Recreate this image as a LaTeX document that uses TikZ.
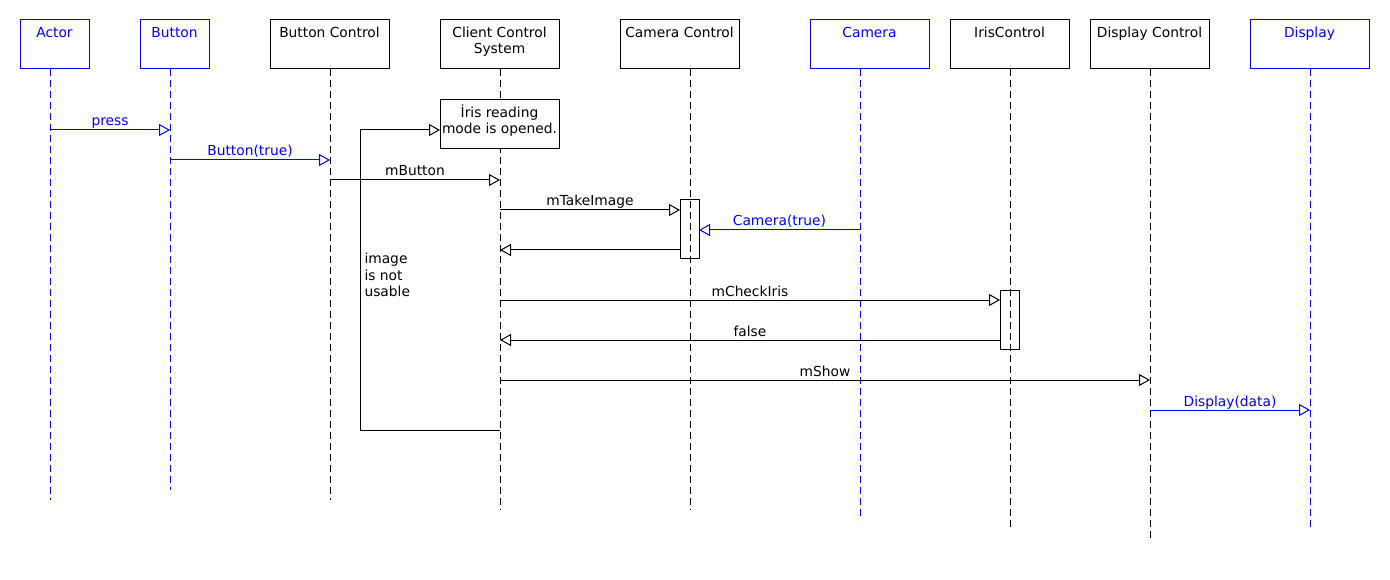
\documentclass[tikz,border=0pt]{standalone}
\usepackage{fontspec}
\setmainfont{DejaVu Sans}
\usetikzlibrary{arrows.meta}
\definecolor{umlblue}{RGB}{0,0,255}
\begin{document}
\begin{tikzpicture}[x=1pt,y=-1pt,line width=1pt,
  every node/.style={font=\fontsize{13.8}{16}\selectfont, inner sep=0pt},
  objbox/.style={draw, anchor=north west, minimum height=49pt, minimum width=119pt, outer sep=0pt},
  smallbox/.style={objbox, minimum width=69pt},
  bluebox/.style={draw=umlblue},
  ttl/.style={anchor=base},
  lifeline/.style={dash pattern=on 7pt off 4pt},
  msg/.style={-{Triangle[open,length=11pt,width=12pt,line width=1pt]}},
  lbl/.style={anchor=base, yshift=4pt},
  actbox/.style={draw, anchor=north west, minimum width=19pt, minimum height=59pt, outer sep=0pt}
]
\useasboundingbox (0,0) rectangle (1390,580);

% object boxes
\node[smallbox, bluebox] (actor) at (20,20) {};
\node[smallbox, bluebox] (button) at (140,20) {};
\node[objbox] (bctrl) at (270,20) {};
\node[objbox] (client) at (440,20) {};
\node[objbox] (cctrl) at (620,20) {};
\node[objbox, bluebox] (camera) at (810,20) {};
\node[objbox] (iris) at (950,20) {};
\node[objbox] (dctrl) at (1090,20) {};
\node[objbox, bluebox] (display) at (1250,20) {};

% titles
\node[ttl, text=umlblue] (tactor) at (54.5,38) {Actor};
\node[ttl, text=umlblue] (tbutton) at (174.5,38) {Button};
\node[ttl] (tbctrl) at (329.5,38) {Button Control};
\node[ttl] (tclient1) at (499.5,38) {Client Control};
\node[ttl] (tclient2) at (499.5,54) {System};
\node[ttl] (tcctrl) at (679.5,38) {Camera Control};
\node[ttl, text=umlblue] (tcamera) at (869.5,38) {Camera};
\node[ttl] (tiris) at (1009.5,38) {IrisControl};
\node[ttl] (tdctrl) at (1149.5,38) {Display Control};
\node[ttl, text=umlblue] (tdisplay) at (1309.5,38) {Display};

% lifeline coordinates
\coordinate (a0) at (50,69);   \coordinate (a1) at (50,500);
\coordinate (b0) at (170,69);  \coordinate (b1) at (170,490);
\coordinate (c0) at (330,69);  \coordinate (c1) at (330,500);
\coordinate (d0) at (500,69);  \coordinate (d1) at (500,510);
\coordinate (e0) at (690,69);  \coordinate (e1) at (690,510);
\coordinate (f0) at (860,69);  \coordinate (f1) at (860,520);
\coordinate (g0) at (1010,69); \coordinate (g1) at (1010,530);
\coordinate (h0) at (1150,69); \coordinate (h1) at (1150,540);
\coordinate (i0) at (1310,69); \coordinate (i1) at (1310,530);

\draw[lifeline, umlblue] (a0) -- (a1);
\draw[lifeline, umlblue] (b0) -- (b1);
\draw[lifeline] (c0) -- (c1);
\draw[lifeline] (d0) -- (d1);
\draw[lifeline] (e0) -- (e1);
\draw[lifeline, umlblue] (f0) -- (f1);
\draw[lifeline] (g0) -- (g1);
\draw[lifeline] (h0) -- (h1);
\draw[lifeline, umlblue] (i0) -- (i1);

% note
\node[draw, fill=white, anchor=north west, minimum width=119pt, minimum height=49pt, outer sep=0pt] (note) at (440,100) {};
\node[ttl] (tnote1) at (499.5,117.5) {İris reading};
\node[ttl] (tnote2) at (499.5,133.5) {mode is opened.};

% activation boxes
\node[actbox] (act1) at (680,200) {};
\node[actbox] (act2) at (1000,290) {};

% message points
\coordinate (pA) at (50,130);   \coordinate (pB) at (170,130);
\coordinate (qB) at (170,160);  \coordinate (qC) at (330,160);
\coordinate (rC) at (330,180);  \coordinate (rD) at (500,180);
\coordinate (sD) at (500,210);  \coordinate (sE) at (680,210);
\coordinate (tF) at (860,230);  \coordinate (tE) at (699,230);
\coordinate (uE) at (680,250);  \coordinate (uD) at (500,250);
\coordinate (vD) at (500,300);  \coordinate (vG) at (1000,300);
\coordinate (wG) at (1000,340); \coordinate (wD) at (500,340);
\coordinate (xD) at (500,380);  \coordinate (xH) at (1150,380);
\coordinate (yH) at (1150,410); \coordinate (yI) at (1310,410);
\coordinate (loopS) at (500,430);
\coordinate (loopA) at (360,430);
\coordinate (loopB) at (360,130);
\coordinate (loopE) at (440,130);

\draw[msg, umlblue] (pA) -- node[lbl, text=umlblue] {press} (pB);
\draw[msg, umlblue] (qB) -- node[lbl, text=umlblue] {Button(true)} (qC);
\draw[msg] (rC) -- node[lbl] {mButton} (rD);
\draw[msg] (sD) -- node[lbl] {mTakeImage} (sE);
\draw[msg, umlblue] (tF) -- node[lbl, text=umlblue] {Camera(true)} (tE);
\draw[msg] (uE) -- (uD);
\draw[msg] (vD) -- node[lbl] {mCheckIris} (vG);
\draw[msg] (wG) -- node[lbl] {false} (wD);
\draw[msg] (xD) -- node[lbl] {mShow} (xH);
\draw[msg, umlblue] (yH) -- node[lbl, text=umlblue] {Display(data)} (yI);

% loop
\draw[msg] (loopS) -- (loopA) -- (loopB) -- (loopE);
\node[anchor=base west] (lp1) at (364,264) {image};
\node[anchor=base west] (lp2) at (364,280) {is not};
\node[anchor=base west] (lp3) at (364,296) {usable};
\end{tikzpicture}
\end{document}
